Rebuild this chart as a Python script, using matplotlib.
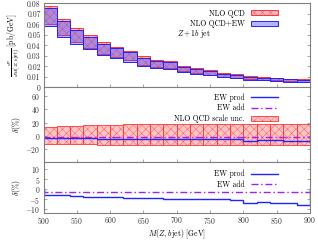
import numpy as np
import matplotlib
matplotlib.use("Agg")
import matplotlib.pyplot as plt

plt.rcParams['font.family'] = ['cmr10', 'DejaVu Serif']
plt.rcParams['mathtext.fontset'] = 'cm'
plt.rcParams['axes.formatter.use_mathtext'] = True
plt.rcParams['hatch.linewidth'] = 0.25

# ---- data ----
bin_edges = [500, 520, 540, 560, 580, 600, 620, 640, 660, 680, 700,
             720, 740, 760, 780, 800, 820, 840, 860, 880, 900]
nlo_qcd = [0.0680, 0.0565, 0.0489, 0.0428, 0.0369, 0.0332, 0.0296, 0.0251,
           0.0225, 0.0210, 0.0175, 0.0157, 0.0138, 0.0116, 0.0103, 0.0090,
           0.0082, 0.0077, 0.0069, 0.0063]
scale_up = [14.0, 14.5, 15.0, 16.5, 16.5, 17.0, 17.5, 17.5, 17.5, 18.0,
            18.0, 18.0, 18.0, 18.5, 18.5, 18.5, 18.5, 18.5, 18.5, 18.5]
scale_down = [-11.5, -12.0, -12.0, -12.5, -13.0, -13.5, -13.5, -14.0, -14.0, -14.0,
              -14.0, -14.0, -14.0, -14.0, -14.0, -14.0, -14.0, -14.0, -14.0, -14.0]
ew_prod = [-2.9, -3.0, -3.3, -3.6, -3.8, -3.9, -4.1, -4.3, -4.4, -4.6,
           -4.7, -4.8, -4.9, -5.0, -5.1, -7.0, -6.4, -6.6, -7.0, -7.8]
ew_add = [-1.5, -1.5, -1.5, -1.5, -1.5, -1.5, -1.5, -1.5, -1.5, -1.5,
          -1.5, -1.5, -1.5, -1.5, -1.5, -1.5, -1.5, -1.5, -1.5, -1.5]
x_ticks = [500, 550, 600, 650, 700, 750, 800, 850, 900]

edges = np.array(bin_edges, dtype=float)
left = edges[:-1]
width = np.diff(edges)
qcd = np.array(nlo_qcd)
up = np.array(scale_up) / 100.0
dn = np.array(scale_down) / 100.0
ewp = np.array(ew_prod)
ewa = np.array(ew_add)

RED = '#ff3333'
PINK = '#f8b4c0'
BLUE = '#2222ff'
BLUEFILL = (0.3, 0.3, 1.0, 0.42)
PURP = '#a020f0'
GREY = '#808080'
FS = 5.5

fig = plt.figure(figsize=(3.18, 2.42), dpi=100)
L, R = 43.5 / 318, 310 / 318
def yf(p):
    return 1 - p / 242.0
ax1 = fig.add_axes([L, yf(87.3), R - L, yf(3.3) - yf(87.3)])
ax2 = fig.add_axes([L, yf(161.7), R - L, yf(87.3) - yf(161.7)])
ax3 = fig.add_axes([L, yf(212.7), R - L, yf(161.7) - yf(212.7)])

for ax in (ax1, ax2, ax3):
    ax.set_xlim(500, 900)
    for s in ax.spines.values():
        s.set_color(GREY)
        s.set_linewidth(0.8)
        s.set_zorder(5)
    ax.tick_params(direction='in', length=2, width=0.5, color=GREY,
                   labelsize=FS, labelcolor='#333333', right=True, top=False, pad=2)
    ax.set_xticks(x_ticks)

# panel 1
qcd_lo = qcd * (1 + dn)
qcd_hi = qcd * (1 + up)
ew_c = qcd * (1 + ewp / 100.0)
ew_lo = ew_c * (1 + dn)
ew_hi = ew_c * (1 + up)
ax1.bar(left, qcd_hi - qcd_lo, width=width, bottom=qcd_lo, align='edge',
        facecolor=PINK, edgecolor=RED, hatch='xxxx', linewidth=0.7, label='NLO QCD')
ax1.bar(left, ew_hi - ew_lo, width=width, bottom=ew_lo, align='edge',
        facecolor=BLUEFILL, edgecolor=BLUE, linewidth=0.7,
        label='NLO QCD+EW')
ax1.set_ylim(0, 0.08)
ax1.set_yticks(np.arange(0, 0.081, 0.01))
ax1.set_yticklabels(['0', '0.01', '0.02', '0.03', '0.04', '0.05', '0.06', '0.07', '0.08'])
ax1.tick_params(labelbottom=False)
ax1.legend(loc='upper right', bbox_to_anchor=(0.88, 0.93), markerfirst=False,
           frameon=False, fontsize=FS, handlelength=3.6, handleheight=0.6,
           borderpad=0, borderaxespad=0, labelspacing=0.3, handletextpad=0.8)
ax1.text(0.5, 0.635, r'$Z+1b$ jet', transform=ax1.transAxes, fontsize=FS,
         ha='left', va='center')
ax1.set_ylabel(r'$\frac{d\sigma}{dM(Z,b\,\mathrm{jet})}$ [pb/GeV]', fontsize=FS, labelpad=2)

# panel 2
ax2.bar(left, (up - dn) * 100, width=width, bottom=dn * 100, align='edge',
        facecolor='#ffc4c4', edgecolor=RED, hatch='xxxx', linewidth=0.6,
        label='NLO QCD scale unc.', zorder=1)
ax2.stairs(ewp, edges, color=BLUE, linewidth=1.0, label='EW prod', zorder=3)
ax2.stairs(ewa, edges, color=PURP, linewidth=1.0, linestyle=(0, (5, 2, 1, 2)),
           label='EW add', zorder=3)
ax2.set_ylim(-38.5, 73)
ax2.set_yticks([-20, 0, 20, 40, 60])
ax2.tick_params(labelbottom=False)
h, lab = ax2.get_legend_handles_labels()
order = [lab.index('EW prod'), lab.index('EW add'), lab.index('NLO QCD scale unc.')]
ax2.legend([h[i] for i in order], [lab[i] for i in order],
           loc='upper right', bbox_to_anchor=(0.88, 0.92), markerfirst=False,
           frameon=False, fontsize=FS, handlelength=3.6, handleheight=0.6,
           borderpad=0, borderaxespad=0, labelspacing=0.3, handletextpad=0.8)
ax2.set_ylabel(r'$\delta(\%)$', fontsize=FS, labelpad=2)

# panel 3
ax3.stairs(ewp, edges, color=BLUE, linewidth=1.0, label='EW prod')
ax3.stairs(ewa, edges, color=PURP, linewidth=1.0, linestyle=(0, (5, 2, 1, 2)), label='EW add')
ax3.set_ylim(-11.7, 13.8)
ax3.set_yticks([-10, -5, 0, 5, 10])
ax3.legend(loc='upper right', bbox_to_anchor=(0.88, 0.84), markerfirst=False,
           frameon=False, fontsize=FS, handlelength=3.6,
           borderpad=0, borderaxespad=0, labelspacing=0.3, handletextpad=0.8)
ax3.set_ylabel(r'$\delta(\%)$', fontsize=FS, labelpad=2)
ax3.set_xlabel(r'$M(Z,b\,\mathrm{jet})$ [GeV]', fontsize=FS, labelpad=1)

fig.align_ylabels([ax1, ax2, ax3])
fig.savefig('out.png', dpi=100)
